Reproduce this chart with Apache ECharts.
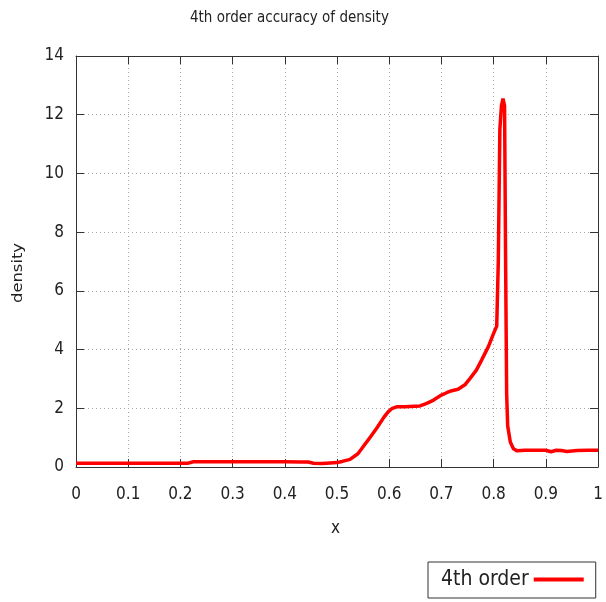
<!DOCTYPE html>
<html><head><meta charset="utf-8">
<script src="https://cdn.jsdelivr.net/npm/echarts@6/dist/echarts.min.js"></script>
<style>html,body{margin:0;padding:0;background:#fff}#c{width:606px;height:602px}</style>
</head><body><div id="c"></div>
<script>
const xs = [0, 0.05, 0.1, 0.15, 0.2, 0.215, 0.225, 0.25, 0.3, 0.35, 0.4, 0.43, 0.445, 0.455, 0.47, 0.48, 0.5, 0.51, 0.525, 0.54, 0.55, 0.565, 0.576, 0.59, 0.598, 0.606, 0.614, 0.63, 0.659, 0.672, 0.685, 0.7, 0.71, 0.72, 0.732, 0.745, 0.755, 0.767, 0.777, 0.79, 0.8, 0.806, 0.809, 0.812, 0.815, 0.818, 0.821, 0.823, 0.825, 0.827, 0.832, 0.838, 0.845, 0.86, 0.88, 0.9, 0.91, 0.92, 0.93, 0.94, 0.96, 0.98, 1.0];
const density = [0.125, 0.125, 0.125, 0.125, 0.125, 0.13, 0.18, 0.18, 0.18, 0.18, 0.18, 0.17, 0.17, 0.13, 0.12, 0.13, 0.15, 0.19, 0.26, 0.45, 0.69, 1.05, 1.32, 1.7, 1.88, 2.0, 2.05, 2.05, 2.08, 2.17, 2.28, 2.45, 2.53, 2.6, 2.65, 2.8, 3.02, 3.3, 3.64, 4.1, 4.55, 4.8, 7.0, 11.5, 12.3, 12.55, 12.3, 7.0, 2.5, 1.4, 0.85, 0.62, 0.55, 0.57, 0.57, 0.57, 0.52, 0.57, 0.56, 0.53, 0.56, 0.57, 0.57];
const seriesName = '4th order';
const titleText = '4th order accuracy of density';
const xLabel = 'x';
const yLabel = 'density';

const font = '"DejaVu Sans Condensed", "DejaVu Sans"';
const chart = echarts.init(document.getElementById('c'), null, {renderer: 'canvas'});
const grid = {left: 76, right: 8, top: 56, bottom: 135, containLabel: false};
const split = {show: true, lineStyle: {color: '#a8a8a8', type: [1, 3], width: 1}};
const tick = {show: true, inside: true, length: 8, lineStyle: {color: '#333', width: 1}};
const line = {show: true, onZero: false, lineStyle: {color: '#333', width: 1}};
chart.setOption({
  animation: false,
  title: {text: titleText, left: 185, top: 6, textStyle: {fontFamily: font, fontSize: 15, fontWeight: 'normal', color: '#222'}},
  grid: grid,
  legend: {
    data: [seriesName], left: 428, top: 562, align: 'right',
    icon: 'rect', itemWidth: 50, itemHeight: 4, itemGap: 14,
    padding: [7, 12, 8, 13], borderColor: '#333', borderWidth: 1,
    textStyle: {fontFamily: font, fontSize: 21, color: '#222'}
  },
  xAxis: [
    {type: 'value', min: 0, max: 1, interval: 0.1, position: 'bottom',
     axisLine: line, axisTick: tick, splitLine: split,
     axisLabel: {fontFamily: font, fontSize: 17, color: '#222', margin: 19, formatter: v => (Math.round(v*10)/10).toString()}},
    {type: 'value', min: 0, max: 1, interval: 0.1, position: 'top',
     axisLine: line, axisTick: tick, splitLine: {show: false}, axisLabel: {show: false}}
  ],
  yAxis: [
    {type: 'value', min: 0, max: 14, interval: 2, position: 'left',
     axisLine: line, axisTick: tick, splitLine: split,
     axisLabel: {fontFamily: font, fontSize: 17, color: '#222', margin: 12}},
    {type: 'value', min: 0, max: 14, interval: 2, position: 'right',
     axisLine: line, axisTick: tick, splitLine: {show: false}, axisLabel: {show: false}}
  ],
  graphic: [
    {type: 'text', left: 331, top: 520, style: {text: xLabel, fontFamily: font, fontSize: 17, fill: '#222'}},
    {type: 'text', x: 11, y: 303, rotation: Math.PI/2, scaleX: 1.3, style: {text: yLabel, fontFamily: font, fontSize: 14, fill: '#222'}}
  ],
  series: [{
    name: seriesName, type: 'line', data: xs.map((x, i) => [x, density[i]]),
    showSymbol: false, smooth: false, lineStyle: {color: '#ff0000', width: 3.5}, itemStyle: {color: '#ff0000'}
  }]
});
</script></body></html>
